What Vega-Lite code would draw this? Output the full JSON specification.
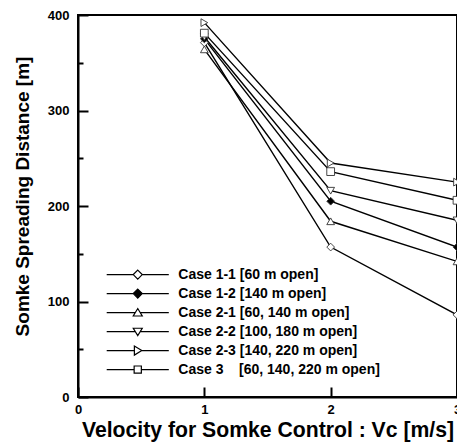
{
  "$schema": "https://vega.github.io/schema/vega-lite/v6.json",
  "width": 379,
  "height": 382,
  "autosize": {"type": "none"},
  "padding": {"left": 78, "top": 15, "right": 0, "bottom": 47},
  "background": "white",
  "config": {
    "view": {"stroke": "black", "strokeWidth": 2},
    "font": "Liberation Sans",
    "axis": {"grid": false, "domainColor": "black", "domainWidth": 2, "tickColor": "black", "tickWidth": 2, "labelColor": "black", "titleColor": "black", "labelFont": "Liberation Sans", "labelFontWeight": "bold", "labelFontSize": 13, "titleFont": "Liberation Sans", "titleFontWeight": "bold"},
    "legend": {"orient": "none", "legendX": 21.7, "legendY": 252.6, "title": null, "padding": 0, "columns": 1, "direction": "vertical", "symbolSize": 81, "symbolOffset": 0, "labelOffset": 64.6, "rowPadding": 5, "symbolOpacity": 1, "symbolStrokeColor": "black", "symbolStrokeWidth": 1.2, "labelFont": "Liberation Sans", "labelFontWeight": "bold", "labelFontSize": 14, "labelColor": "black", "labelLimit": 400}
  },
  "data": {"values": [
    {"case": "Case 1-1 [60 m open]", "v": 1, "d": 371},
    {"case": "Case 1-1 [60 m open]", "v": 2, "d": 157},
    {"case": "Case 1-1 [60 m open]", "v": 3, "d": 86},
    {"case": "Case 1-2 [140 m open]", "v": 1, "d": 375},
    {"case": "Case 1-2 [140 m open]", "v": 2, "d": 205},
    {"case": "Case 1-2 [140 m open]", "v": 3, "d": 157},
    {"case": "Case 2-1 [60, 140 m open]", "v": 1, "d": 364},
    {"case": "Case 2-1 [60, 140 m open]", "v": 2, "d": 184},
    {"case": "Case 2-1 [60, 140 m open]", "v": 3, "d": 142},
    {"case": "Case 2-2 [100, 180 m open]", "v": 1, "d": 377},
    {"case": "Case 2-2 [100, 180 m open]", "v": 2, "d": 216},
    {"case": "Case 2-2 [100, 180 m open]", "v": 3, "d": 185},
    {"case": "Case 2-3 [140, 220 m open]", "v": 1, "d": 392},
    {"case": "Case 2-3 [140, 220 m open]", "v": 2, "d": 245},
    {"case": "Case 2-3 [140, 220 m open]", "v": 3, "d": 225},
    {"case": "Case 3\u00a0\u00a0\u00a0\u00a0[60, 140, 220 m open]", "v": 1, "d": 381},
    {"case": "Case 3\u00a0\u00a0\u00a0\u00a0[60, 140, 220 m open]", "v": 2, "d": 236},
    {"case": "Case 3\u00a0\u00a0\u00a0\u00a0[60, 140, 220 m open]", "v": 3, "d": 206}
  ]},
  "layer": [
    {
      "mark": {"type": "line", "color": "black", "strokeWidth": 1.4, "clip": true},
      "encoding": {
        "x": {"field": "v", "type": "quantitative", "scale": {"domain": [0, 3], "nice": false},
          "axis": {"values": [0, 1, 2, 3], "format": "d", "tickSize": -10, "labelPadding": 16, "labelFlush": false, "title": "Velocity for Somke Control : Vc [m/s]", "titleFontSize": 21.2, "titleY": 39, "titleBaseline": "alphabetic"}},
        "y": {"field": "d", "type": "quantitative", "scale": {"domain": [0, 400], "nice": false},
          "axis": {"values": [0, 100, 200, 300, 400], "format": "d", "tickSize": -10, "labelPadding": 19, "labelFlush": false, "title": "Somke Spreading Distance [m]", "titleFontSize": 19, "titleX": -50, "titleY": 181, "titleBaseline": "alphabetic", "titleAngle": -90}},
        "detail": {"field": "case"}
      }
    },
    {
      "mark": {"type": "point", "filled": false, "stroke": "#333", "strokeWidth": 0.9, "size": 60, "opacity": 1, "clip": true},
      "encoding": {
        "x": {"field": "v", "type": "quantitative"},
        "y": {"field": "d", "type": "quantitative", "axis": null},
        "shape": {"field": "case", "type": "nominal", "legend": null,
          "scale": {"domain": ["Case 1-1 [60 m open]", "Case 1-2 [140 m open]", "Case 2-1 [60, 140 m open]", "Case 2-2 [100, 180 m open]", "Case 2-3 [140, 220 m open]", "Case 3\u00a0\u00a0\u00a0\u00a0[60, 140, 220 m open]"],
            "range": ["diamond", "diamond", "triangle-up", "triangle-down", "triangle-right", "square"]}},
        "fill": {"field": "case", "type": "nominal", "legend": null,
          "scale": {"domain": ["Case 1-1 [60 m open]", "Case 1-2 [140 m open]", "Case 2-1 [60, 140 m open]", "Case 2-2 [100, 180 m open]", "Case 2-3 [140, 220 m open]", "Case 3\u00a0\u00a0\u00a0\u00a0[60, 140, 220 m open]"],
            "range": ["white", "black", "white", "white", "white", "white"]}}
      }
    },
    {
      "mark": {"type": "point", "filled": false, "stroke": "black", "strokeWidth": 1.2, "size": 81, "opacity": 0},
      "encoding": {
        "x": {"field": "v", "type": "quantitative"},
        "y": {"field": "d", "type": "quantitative", "axis": {"orient": "left", "values": [50, 150, 250, 350], "tickSize": -5, "labels": false, "domain": false, "title": null}},
        "shape": {"field": "case", "type": "nominal",
          "scale": {"domain": ["Case 1-1 [60 m open]", "Case 1-2 [140 m open]", "Case 2-1 [60, 140 m open]", "Case 2-2 [100, 180 m open]", "Case 2-3 [140, 220 m open]", "Case 3\u00a0\u00a0\u00a0\u00a0[60, 140, 220 m open]"],
            "range": [
              "M0,0H5.9M7.9,0H13.8M6.9,-1L7.9,0L6.9,1L5.9,0Z",
              "M0,0H5.9M7.9,0H13.8M6.9,-1L7.9,0L6.9,1L5.9,0Z",
              "M0,0H6.35M7.45,0H13.8M5.9,0.75L7.9,0.75L6.9,-0.9Z",
              "M0,0H6.35M7.45,0H13.8M5.9,-0.75L7.9,-0.75L6.9,0.9Z",
              "M0,0H6.15M7.8,0H13.8M6.15,-1L6.15,1L7.8,0Z",
              "M0,0H6.1M7.7,0H13.8M6.1,-0.8H7.7V0.8H6.1Z"
            ]},
          "legend": {"encode": {"symbols": {"update": {"stroke": {"value": "black"}, "strokeWidth": {"value": 1.2}, "opacity": {"value": 1}}}}}},
        "fill": {"field": "case", "type": "nominal",
          "scale": {"domain": ["Case 1-1 [60 m open]", "Case 1-2 [140 m open]", "Case 2-1 [60, 140 m open]", "Case 2-2 [100, 180 m open]", "Case 2-3 [140, 220 m open]", "Case 3\u00a0\u00a0\u00a0\u00a0[60, 140, 220 m open]"],
            "range": ["white", "black", "white", "white", "white", "white"]},
          "legend": {"encode": {"symbols": {"update": {"stroke": {"value": "black"}, "strokeWidth": {"value": 1.2}, "opacity": {"value": 1}}}}}}
      }
    }
  ],
  "resolve": {"scale": {"shape": "independent", "fill": "independent"}, "axis": {"y": "independent"}}
}
